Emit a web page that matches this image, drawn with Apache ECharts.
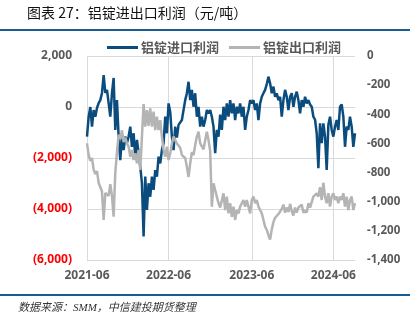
<!DOCTYPE html>
<html>
<head>
<meta charset="utf-8">
<script src="https://cdn.jsdelivr.net/npm/echarts@6/dist/echarts.min.js"></script>
<style>
html,body{margin:0;padding:0;background:#fff;}
#chart{width:420px;height:324px;}
</style>
</head>
<body>
<div id="chart"></div>
<script>
// 铝锭进口利润 (left axis, 元/吨), roughly weekly, 2021-06 .. 2024-08
const importProfit = [
-1160,-380,0,-770,-120,-380,-40,150,270,550,
1250,550,670,150,-380,540,1140,-900,270,-1160,
-2080,-1160,-1690,-1160,-1410,-1160,-770,-1560,-1030,-1950,
-1290,-1800,-2340,-2990,-5080,-2730,-4040,-2990,-3520,-2730,
-3250,-2470,-2730,-1950,-2210,-1690,-1420,-380,-1030,140,
-200,-1160,-1690,-770,-1200,-700,-770,-510,-120,270,
540,990,270,670,10,540,-380,10,-770,-380,
-770,-510,-120,-250,-120,-380,-770,-1810,-900,-1160,
-300,-900,10,-510,140,-380,270,-250,140,-510,
10,-250,140,-380,10,-900,-380,-120,270,140,
270,-120,140,-510,140,400,540,670,900,1190,
930,540,800,400,540,270,400,-380,270,670,
400,-120,400,540,10,400,600,270,-250,270,
10,400,140,270,100,10,-380,-500,-1030,-2400,
-640,-1420,-640,-1160,-2470,-700,-380,-900,-1160,-770,
-510,-900,10,100,-380,-1560,-770,-900,-380,-770,
-1560,-1030
];
// 铝锭出口利润 (right axis, 元/吨)
const exportProfit = [
-600,-680,-720,-700,-780,-810,-790,-870,-880,-930,
-1125,-940,-930,-960,-880,-960,-1103,-800,-660,-540,
-570,-510,-590,-560,-600,-622,-691,-645,-714,-668,
-736,-645,-782,-553,-330,-485,-371,-480,-360,-485,
-382,-508,-417,-508,-440,-553,-645,-691,-622,-714,
-668,-600,-553,-550,-600,-610,-630,-680,-670,-700,
-760,-830,-736,-660,-680,-610,-553,-520,-600,-590,
-640,-580,-520,-577,-650,-1034,-874,-920,-965,-1011,
-1040,-1034,-942,-1057,-965,-1080,-1011,-1103,-1034,-1125,
-1057,-1080,-1034,-1011,-988,-1034,-988,-1034,-1080,-988,
-965,-1011,-988,-1034,-1057,-1080,-1125,-1171,-1194,-1230,
-1260,-1190,-1140,-1110,-1120,-1085,-1090,-1050,-1020,-1075,
-1040,-1070,-1015,-1065,-1095,-1040,-1075,-1040,-1050,-1020,
-1075,-1060,-1075,-1010,-1040,-1045,-965,-960,-942,-965,
-900,-988,-870,-965,-1011,-942,-1034,-965,-942,-988,
-965,-1011,-965,-988,-942,-1034,-965,-1057,-988,-965,
-1057,-1011
];
const seriesNames = ['铝锭进口利润', '铝锭出口利润'];
const tickLabels = ['2021-06', '2022-06', '2023-06', '2024-06'];
const startDate = '2021-06-01';
const endDate = '2024-09-02';

const START = Date.parse(startDate + 'T00:00:00Z');
const END = Date.parse(endDate + 'T00:00:00Z');
const N = importProfit.length;
const dates = importProfit.map((_, i) =>
  new Date(START + (END - START) * i / (N - 1)).toISOString().slice(0, 10));
const labelAt = {};
tickLabels.forEach(lab => {
  const t = Date.parse(lab + '-01T00:00:00Z');
  labelAt[Math.round((t - START) / (END - START) * (N - 1))] = lab;
});
const showTick = (i) => labelAt[i] !== undefined;

const fmtThousands = (v) => String(Math.abs(v)).replace(/\B(?=(\d{3})+(?!\d))/g, ',');

const chart = echarts.init(document.getElementById('chart'), null, {renderer: 'canvas'});
const TXT = '#595959';
const BLUE = '#0b4c7e';
const GRAY = '#b4b4b4';
const FONT = "'Noto Sans', 'Noto Sans CJK SC', sans-serif";

chart.setOption({
  animation: false,
  backgroundColor: '#fff',
  grid: {left: 87, right: 65, top: 56, bottom: 64},
  legend: {
    left: 102, top: 36,
    itemWidth: 31, itemHeight: 3, itemGap: 10,
    icon: 'rect',
    textStyle: {fontSize: 13, fontWeight: 'bold', color: TXT, fontFamily: "'Noto Sans CJK SC', sans-serif", padding: [0,0,0,-2]},
    data: seriesNames
  },
  graphic: [
    {type: 'text', left: 27, top: 6, style: {text: '图表 27：铝锭进出口利润（元/吨）', fontSize: 14, fill: '#111', fontFamily: "'Noto Sans CJK SC', sans-serif"}},
    {type: 'line', shape: {x1: 0, y1: 30, x2: 410, y2: 30}, style: {stroke: '#175d94', lineWidth: 2}},
    {type: 'line', shape: {x1: 0, y1: 295, x2: 410, y2: 295}, style: {stroke: '#175d94', lineWidth: 2}},
    {type: 'text', left: 18, top: 303, style: {text: '数据来源：SMM，中信建投期货整理', fontSize: 11, fontStyle: 'italic', fill: '#333', fontFamily: "'Liberation Serif', 'Noto Sans CJK SC', serif"}}
  ],
  xAxis: {
    type: 'category',
    boundaryGap: false,
    data: dates,
    axisLine: {show: false},
    axisTick: {show: false},
    axisLabel: {interval: showTick, formatter: (v, i) => labelAt[i] || '', color: TXT, fontSize: 12, fontWeight: 'bold', fontFamily: FONT, margin: 10},
    splitLine: {show: true, interval: showTick, lineStyle: {color: '#d9d9d9', width: 1}}
  },
  yAxis: [
    {
      type: 'value', min: -6000, max: 2000, interval: 2000,
      axisLine: {show: false}, axisTick: {show: false},
      splitLine: {show: true, lineStyle: {color: '#d9d9d9', width: 1}},
      axisLabel: {
        margin: 15, fontSize: 12, fontWeight: 'bold', fontFamily: FONT,
        formatter: v => v < 0 ? '(' + fmtThousands(v) + ')' : fmtThousands(v),
        color: v => (Number(v) < 0 ? '#ff0000' : TXT)
      }
    },
    {
      type: 'value', min: -1400, max: 0, interval: 200,
      axisLine: {show: false}, axisTick: {show: false},
      splitLine: {show: false},
      axisLabel: {margin: 12, fontSize: 11.5, fontWeight: 'bold', color: TXT, fontFamily: FONT}
    }
  ],
  series: [
    {name: seriesNames[0], type: 'line', yAxisIndex: 0, data: importProfit, showSymbol: false, symbol: 'none',
     lineStyle: {color: BLUE, width: 2.5}, itemStyle: {color: BLUE}, z: 2},
    {name: seriesNames[1], type: 'line', yAxisIndex: 1, data: exportProfit, showSymbol: false, symbol: 'none',
     lineStyle: {color: GRAY, width: 2.5}, itemStyle: {color: GRAY}, z: 3}
  ]
});
</script>
</body>
</html>
